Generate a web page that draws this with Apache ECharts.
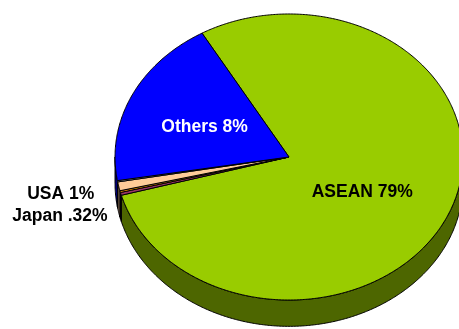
<!DOCTYPE html>
<html>
<head>
<meta charset="utf-8">
<script src="https://cdn.jsdelivr.net/npm/echarts@6/dist/echarts.min.js"></script>
<style>
  html, body { margin: 0; padding: 0; background: #fff; }
  #chart { width: 459px; height: 329px; }
</style>
</head>
<body>
<div id="chart"></div>
<script>
// Trade shares by partner, in clockwise slice order starting at the top-left cut
const categories = ['ASEAN', 'Japan', '', 'USA', '', 'Others'];
const shares = [79, 0.32, 0.2, 1, 0.15, 19.3];
const labelTexts = ['ASEAN 79%', 'Japan .32%', '', 'USA 1%', '', 'Others 8%'];

// Styling for each slice: top face, visible rim, label colour
const topColors = ['#99CC00', '#993366', '#FF9900', '#FFCC99', '#C0C0C0', '#0000FF'];
const sideColors = ['#4D6600', '#4D1A33', '#804D00', '#806650', '#606060', '#000080'];
const labelColors = ['#000000', '#000000', '#000000', '#000000', '#000000', '#FFFFFF'];
// Label placement: radial fraction of the mid-angle point plus a pixel nudge
const labelRadius = [0.48, 1, 0, 1, 0, 0.53];
const labelNudge = [[-4, 9], [-61, 22], [0, 0], [-58, 8], [0, 0], [-1, 3]];

const START_DEG = 120; // first cut, counter-clockwise from 3 o'clock

const total = shares.reduce((s, v) => s + v, 0);
let running = 0;
const sliceData = shares.map((v, i) => {
  const from = running / total;
  running += v;
  return { name: categories[i], value: [i, from, running / total] };
});

function renderSlice(params, api) {
  const i = api.value(0);
  const f0 = api.value(1);
  const f1 = api.value(2);
  const W = api.getWidth();
  const H = api.getHeight();
  const cx = W * 0.6296, cy = H * 0.4772;
  const rx = W * 0.379, ry = H * 0.4347;
  const depth = H * 0.08;

  const a0 = START_DEG - f0 * 360;
  const a1 = START_DEG - f1 * 360;

  const pt = (deg, dz) => {
    const r = deg * Math.PI / 180;
    return [cx + rx * Math.cos(r), cy - ry * Math.sin(r) + (dz || 0)];
  };
  const arc = (from, to, dz) => {
    const n = Math.max(2, Math.ceil(Math.abs(from - to) / 0.5));
    const out = [];
    for (let k = 0; k <= n; k++) out.push(pt(from + (to - from) * k / n, dz));
    return out;
  };

  const children = [];
  // Rim: only the near half of the disc (180..360 deg) shows its side
  for (let k = -2; k <= 2; k++) {
    const lo = Math.max(a1, 180 + 360 * k);
    const hi = Math.min(a0, 360 + 360 * k);
    if (hi > lo) {
      const pts = arc(lo, hi, 0).concat(arc(hi, lo, depth));
      children.push({
        type: 'polygon', z2: 1,
        shape: { points: pts },
        style: { fill: sideColors[i], stroke: '#000', lineWidth: 1 }
      });
    }
  }
  // Top face
  children.push({
    type: 'polygon', z2: 5,
    shape: { points: [[cx, cy]].concat(arc(a0, a1, 0)) },
    style: { fill: topColors[i], stroke: '#000', lineWidth: 1, lineJoin: 'round' }
  });
  // Label
  if (labelTexts[i]) {
    const mid = (a0 + a1) / 2 * Math.PI / 180;
    const r = labelRadius[i];
    children.push({
      type: 'text', z2: 10,
      style: {
        text: labelTexts[i],
        x: cx + rx * r * Math.cos(mid) + labelNudge[i][0],
        y: cy - ry * r * Math.sin(mid) + labelNudge[i][1],
        fill: labelColors[i],
        font: 'bold 17.5px "Liberation Sans", Arial, sans-serif',
        align: 'center',
        verticalAlign: 'middle'
      }
    });
  }
  return { type: 'group', children };
}

const chart = echarts.init(document.getElementById('chart'), null, { renderer: 'canvas' });
chart.setOption({
  backgroundColor: '#ffffff',
  animation: false,
  series: [{
    type: 'custom',
    coordinateSystem: 'none',
    renderItem: renderSlice,
    data: sliceData
  }]
});
</script>
</body>
</html>
